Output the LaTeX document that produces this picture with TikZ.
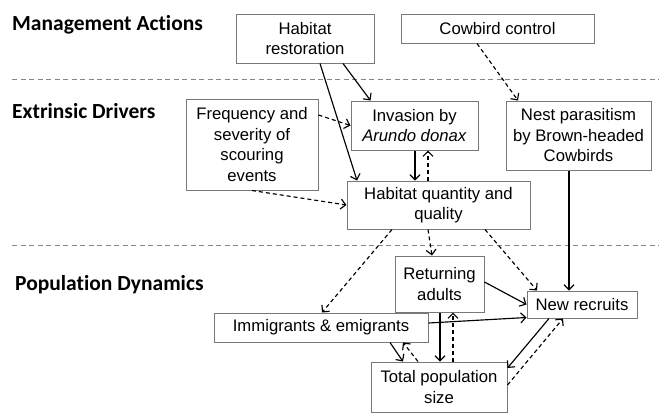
\documentclass[tikz,border=0pt]{standalone}
\usepackage{fontspec}
\setmainfont{Liberation Sans}
\newfontfamily\secfont[Ligatures=NoCommon]{Carlito}
\usetikzlibrary{arrows.meta,calc}
\definecolor{boxgray}{RGB}{120,120,120}
\definecolor{sepgray}{RGB}{135,135,135}
\begin{document}
\begin{tikzpicture}[x=1pt,y=-1pt,
  box/.style={draw=boxgray,line width=1pt,align=center,inner sep=0pt,
    font=\fontsize{16.7}{20.5}\selectfont,anchor=center},
  sect/.style={anchor=west,inner sep=0pt,font=\secfont\bfseries\fontsize{21.5}{24}\selectfont},
  sol/.style={line width=1.15pt,-{Straight Barb[length=5pt,width=10pt]}},
  dsh/.style={line width=1.15pt,dash pattern=on 4pt off 3pt,-{Straight Barb[length=5pt,width=10pt]}},
  sep/.style={draw=sepgray,line width=1pt,dash pattern=on 5pt off 3.5pt}]
\useasboundingbox (0,0) rectangle (659,413);
% separators
\draw[sep] (12,79) -- (659,79);
\draw[sep] (12,245) -- (659,245);
% section labels
\node[sect] (sma) at (12,25) {Management Actions};
\node[sect] (sed) at (12,111) {Extrinsic Drivers};
\node[sect] (spd) at (15,285) {Population Dynamics};
% boxes
\node[box,minimum width=138pt,minimum height=49pt] (hr) at (305,38.5) {Habitat\\restoration};
\node[box,minimum width=193pt,minimum height=29pt] (cc) at (497.5,28.5) {Cowbird control};
\node[box,minimum width=132pt,minimum height=91pt] (fr) at (252,144.5) {Frequency and\\severity of\\scouring\\events};
\node[box,minimum width=127pt,minimum height=49pt] (inv) at (414.5,125.5) {Invasion by\\\textit{Arundo donax}};
\node[box,minimum width=145pt,minimum height=69pt] (nest) at (578.5,135.5) {Nest parasitism\\by Brown-headed\\Cowbirds};
\node[box,minimum width=183pt,minimum height=48pt] (hq) at (438.5,205) {Habitat quantity and\\quality};
\node[box,minimum width=89pt,minimum height=56pt] (ret) at (439.5,284) {Returning\\adults};
\node[box,minimum width=110pt,minimum height=27pt] (nr) at (582,304.5) {New recruits};
\node[box,minimum width=214pt,minimum height=29pt] (imm) at (321,327.5) {Immigrants \& emigrants};
\node[box,minimum width=136pt,minimum height=50pt] (tot) at (439,387) {Total population\\size};
% connectors
\draw[sol] ([xshift=38pt]hr.south) -- ([xshift=-44pt]inv.north);
\draw[sol] ([xshift=15pt]hr.south) -- ([xshift=-81.5pt]hq.north);
\draw[dsh] ([yshift=29.5pt]fr.east) -- (inv.west);
\draw[dsh] (fr.south) -- (hq.west);
\draw[sol] ([xshift=0.5pt]inv.south) -- ([xshift=-23.5pt]hq.north);
\draw[dsh] ([xshift=-10.5pt]hq.north) -- ([xshift=13.5pt]inv.south);
\draw[dsh] ([xshift=-20.5pt]cc.south) -- ([xshift=-60.5pt]nest.north);
\draw[sol] ([xshift=-9.5pt]nest.south) -- ([xshift=-13pt]nr.north);
\draw[dsh] ([xshift=-10.5pt]hq.south) -- ([xshift=-7.5pt]ret.north);
\draw[dsh] ([xshift=46.5pt]hq.south) -- ([xshift=-45pt]nr.north);
\draw[dsh] ([xshift=-46.5pt]hq.south) -- ([xshift=1pt]imm.north);
\draw[sol] ([yshift=2pt]ret.east) -- (nr.west);
\draw[sol] ([yshift=4.5pt]imm.east) -- ([yshift=-13pt]nr.west);
\draw[sol] ([xshift=0.5pt]ret.south) -- ([xshift=1pt]tot.north);
\draw[dsh] ([xshift=14pt]tot.north) -- ([xshift=13.5pt]ret.south);
\draw[sol] ([xshift=69pt]imm.south) -- ([xshift=-36pt]tot.north);
\draw[dsh] ([xshift=-21pt]tot.north) -- ([xshift=82pt]imm.south);
\draw[sol] ([xshift=-33pt]nr.south) -- ([yshift=19pt]tot.east);
\draw[dsh] ([yshift=2pt]tot.east) -- ([xshift=-19pt]nr.south);
\end{tikzpicture}
\end{document}
